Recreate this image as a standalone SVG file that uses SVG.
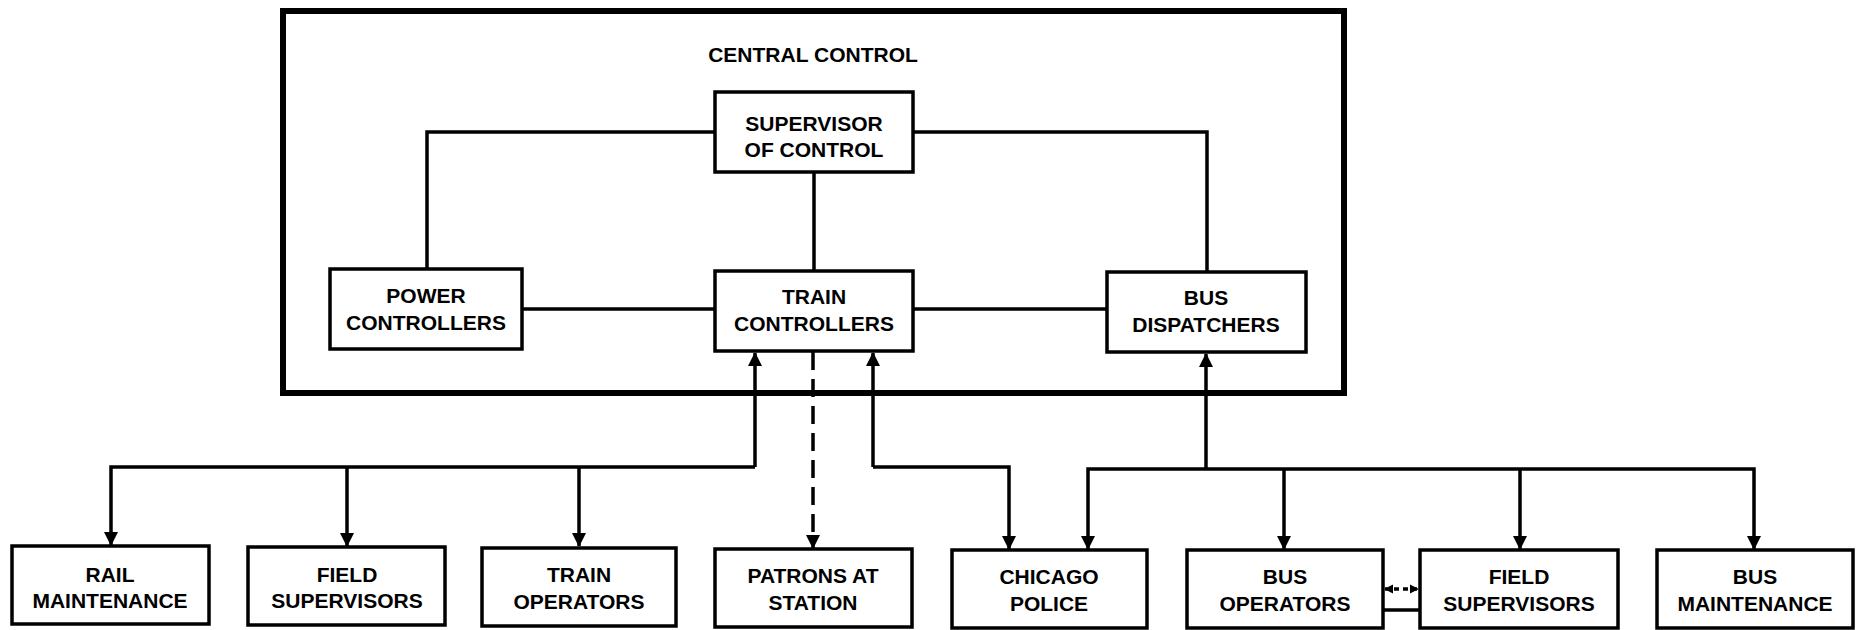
<svg xmlns="http://www.w3.org/2000/svg" width="1858" height="630" viewBox="0 0 1858 630">
<style>
.box{fill:#fff;stroke:#000;stroke-width:3.5}
.outer{fill:none;stroke:#000;stroke-width:6}
.t{font-family:"Liberation Sans",Arial,sans-serif;font-weight:bold;font-size:21px;fill:#000;text-anchor:middle}
.ln{fill:none;stroke:#000;stroke-width:3.5}
.dash{fill:none;stroke:#000;stroke-width:3.5;stroke-dasharray:18 9}
</style>
<defs>
<marker id="ah" viewBox="0 0 14 16" refX="13" refY="8" markerWidth="14" markerHeight="16" markerUnits="userSpaceOnUse" orient="auto">
<path d="M0,1 L14,8 L0,15 Z" fill="#000"/>
</marker>
<marker id="sm" viewBox="0 0 10 10" refX="9" refY="5" markerWidth="9" markerHeight="10" markerUnits="userSpaceOnUse" orient="auto-start-reverse">
<path d="M0,0 L10,5 L0,10 Z" fill="#000"/>
</marker>
</defs>
<g id="central-control">
<rect class="outer" x="283" y="11" width="1061" height="382"/>
<text class="t" x="813" y="62">CENTRAL CONTROL</text>
</g>
<g id="connectors">
<path class="ln" d="M715,132 H427 V270"/>
<path class="ln" d="M913,132 H1207 V271"/>
<path class="ln" d="M814,172 V270"/>
<path class="ln" d="M523,309 H715"/>
<path class="ln" d="M913,309 H1107"/>
<path class="ln" d="M755,467 V353" marker-end="url(#ah)"/>
<path class="ln" d="M755,467 H111 V545" marker-end="url(#ah)"/>
<path class="ln" d="M347,467 V546" marker-end="url(#ah)"/>
<path class="ln" d="M579,467 V546" marker-end="url(#ah)"/>
<path class="dash" d="M813,352 V548" marker-end="url(#ah)"/>
<path class="ln" d="M873,467 V353" marker-end="url(#ah)"/>
<path class="ln" d="M873,467 H1009 V549" marker-end="url(#ah)"/>
<path class="ln" d="M1206,469 V354" marker-end="url(#ah)"/>
<path class="ln" d="M1206,469 H1088 V549" marker-end="url(#ah)"/>
<path class="ln" d="M1206,469 H1754 V549" marker-end="url(#ah)"/>
<path class="ln" d="M1284,469 V549" marker-end="url(#ah)"/>
<path class="ln" d="M1520,469 V549" marker-end="url(#ah)"/>
<path class="ln" d="M1385,589 H1418" stroke-width="2.5" stroke-dasharray="5 4" marker-start="url(#sm)" marker-end="url(#sm)"/>
<path class="ln" d="M1384,610 H1420" stroke-width="2.5"/>
</g>
<g id="supervisor-of-control">
<rect class="box" x="715" y="92" width="198" height="80"/>
<text class="t" x="814" y="131">SUPERVISOR</text>
<text class="t" x="814" y="157">OF CONTROL</text>
</g>
<g id="power-controllers">
<rect class="box" x="330" y="269" width="192" height="80"/>
<text class="t" x="426" y="303">POWER</text>
<text class="t" x="426" y="330">CONTROLLERS</text>
</g>
<g id="train-controllers">
<rect class="box" x="715" y="271" width="198" height="80"/>
<text class="t" x="814" y="304">TRAIN</text>
<text class="t" x="814" y="331">CONTROLLERS</text>
</g>
<g id="bus-dispatchers">
<rect class="box" x="1107" y="272" width="199" height="80"/>
<text class="t" x="1206" y="305">BUS</text>
<text class="t" x="1206" y="332">DISPATCHERS</text>
</g>
<g id="rail-maintenance">
<rect class="box" x="12" y="546" width="197" height="78"/>
<text class="t" x="110" y="582">RAIL</text>
<text class="t" x="110" y="608">MAINTENANCE</text>
</g>
<g id="field-supervisors-rail">
<rect class="box" x="248" y="547" width="197" height="78"/>
<text class="t" x="347" y="582">FIELD</text>
<text class="t" x="347" y="608">SUPERVISORS</text>
</g>
<g id="train-operators">
<rect class="box" x="482" y="548" width="194" height="78"/>
<text class="t" x="579" y="582">TRAIN</text>
<text class="t" x="579" y="609">OPERATORS</text>
</g>
<g id="patrons-at-station">
<rect class="box" x="715" y="549" width="197" height="78"/>
<text class="t" x="813" y="583">PATRONS AT</text>
<text class="t" x="813" y="610">STATION</text>
</g>
<g id="chicago-police">
<rect class="box" x="952" y="550" width="195" height="78"/>
<text class="t" x="1049" y="584">CHICAGO</text>
<text class="t" x="1049" y="611">POLICE</text>
</g>
<g id="bus-operators">
<rect class="box" x="1187" y="550" width="196" height="78"/>
<text class="t" x="1285" y="584">BUS</text>
<text class="t" x="1285" y="611">OPERATORS</text>
</g>
<g id="field-supervisors-bus">
<rect class="box" x="1420" y="550" width="198" height="78"/>
<text class="t" x="1519" y="584">FIELD</text>
<text class="t" x="1519" y="611">SUPERVISORS</text>
</g>
<g id="bus-maintenance">
<rect class="box" x="1657" y="550" width="196" height="78"/>
<text class="t" x="1755" y="584">BUS</text>
<text class="t" x="1755" y="611">MAINTENANCE</text>
</g>
</svg>
